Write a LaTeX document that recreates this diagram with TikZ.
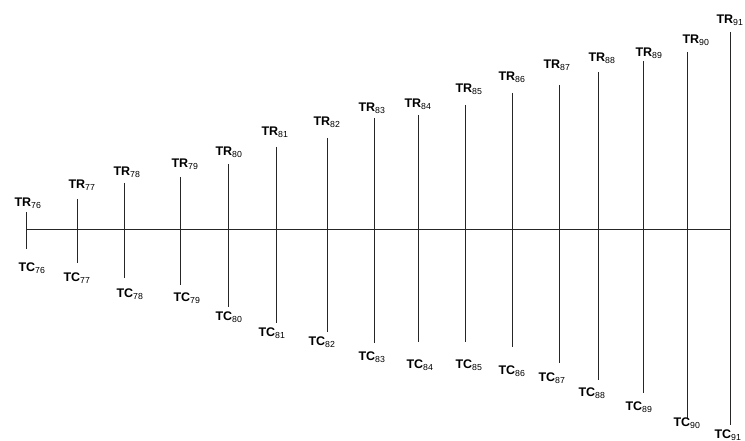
\documentclass[tikz,border=0pt]{standalone}
\usepackage{fontspec}
\setmainfont{Liberation Sans}
\usetikzlibrary{positioning}

\begin{document}
\begin{tikzpicture}[
    x=1pt, y=-1pt,
    tick/.style={black!85, line width=0.9pt},
    axisline/.style={black!85, line width=0.9pt},
    yearlabel/.style={font=\fontsize{12.5}{14}\selectfont, inner sep=0pt}
]
\useasboundingbox (0,0) rectangle (745,441);

% axis height
\def\yaxis{229}

% ---------- Ticks and labels ----------
% year / x / top / bottom / TR label pos / TC label pos
\foreach \n/\x/\ytop/\ybot/\rx/\ry/\cx/\cy in {
    76/26/212/249/28/203/32/268,
    77/77/199/263/82/185/77/278,
    78/124/183/278/127/172/130/294,
    79/180/177/285/185/164/187/298,
    80/228/164/307/229/152/229/317,
    81/276/147/323/275/132/272/333,
    82/327/138/332/327/122/322/342,
    83/374/118/343/372/108/372/357,
    84/418/115/342/418/104/420/365,
    85/465/105/342/469/89/469/365,
    86/512/93/347/512/77/512/371,
    87/559/85/363/557/65/552/378,
    88/598/72/380/602/58/592/393,
    89/643/61/393/649/53/639/407,
    90/687/52/418/696/40/687/423,
    91/730/32/425/730/20/728/435}
{
    \coordinate (top\n) at (\x,\ytop);
    \coordinate (bot\n) at (\x,\ybot);
    \draw[tick] (top\n) -- (bot\n);
    \node[yearlabel] (TR\n) at (\rx,\ry) {\textbf{TR}\textsubscript{\n}};
    \node[yearlabel] (TC\n) at (\cx,\cy) {\textbf{TC}\textsubscript{\n}};
}

% ---------- Axis ----------
\coordinate (axstart) at (26,\yaxis);
\coordinate (axend) at (730,\yaxis);
\draw[axisline] (axstart) -- (axend);

\end{tikzpicture}
\end{document}
